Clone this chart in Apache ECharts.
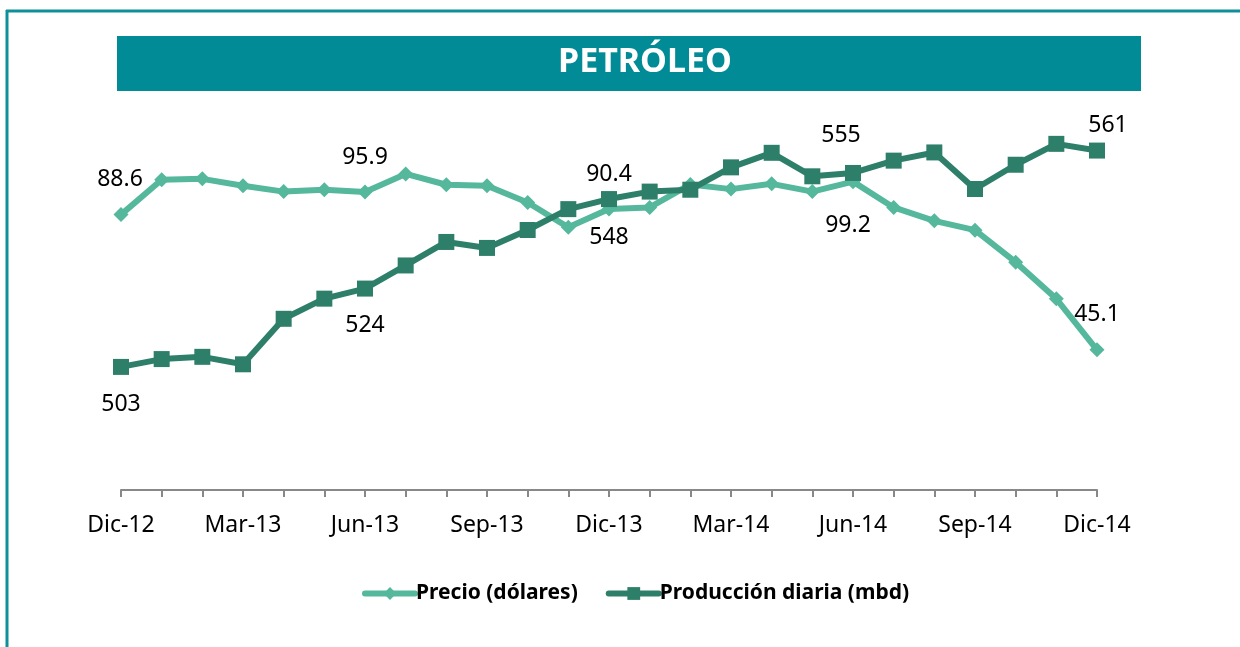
<!DOCTYPE html>
<html>
<head>
<meta charset="utf-8">
<script src="https://cdn.jsdelivr.net/npm/echarts@6/dist/echarts.min.js"></script>
<style>
html,body{margin:0;padding:0;background:#fff;}
#chart{width:1240px;height:647px;}
</style>
</head>
<body>
<div id="chart"></div>
<script>
const titleText = 'PETRÓLEO';
const categories = ['Dic-12','Ene-13','Feb-13','Mar-13','Abr-13','May-13','Jun-13','Jul-13','Ago-13','Sep-13','Oct-13','Nov-13','Dic-13','Ene-14','Feb-14','Mar-14','Abr-14','May-14','Jun-14','Jul-14','Ago-14','Sep-14','Oct-14','Nov-14','Dic-14'];
const seriesNames = ['Precio (dólares)', 'Producción diaria (mbd)'];
const precio = [88.6, 99.8, 100.1, 97.9, 96.0, 96.6, 95.9, 101.7, 98.2, 97.9, 92.5, 84.5, 90.4, 90.9, 98.3, 96.8, 98.5, 96.0, 99.2, 90.9, 86.6, 83.6, 73.3, 61.5, 45.1];
const produccion = [503, 505.1, 505.7, 503.7, 515.9, 521.3, 524, 530.2, 536.5, 534.9, 539.7, 545.3, 548, 550.0, 550.5, 556.5, 560.4, 554.1, 555, 558.3, 560.5, 550.7, 557.2, 562.8, 561];
const labeledIdx = [0, 6, 12, 18, 24];

// label offsets (styling only)
const precioOffsets = {0:[-1,-35], 6:[0,-34], 12:[0,-35], 18:[-5,44], 24:[0,-35]};
const prodOffsets = {0:[0,38], 6:[0,37], 12:[0,38], 18:[-12,-37], 24:[11,-25]};

const FONT = 'Noto Sans';
const C_PRECIO = '#55B89C';
const C_PROD = '#2E7F69';
const C_TEAL = '#008B96';

function buildData(values, offsets, fmt) {
  return values.map((v, i) => {
    if (labeledIdx.indexOf(i) >= 0) {
      return {
        value: v,
        label: {
          show: true, position: 'inside', offset: offsets[i],
          formatter: () => fmt(v),
          color: '#000', fontFamily: FONT, fontSize: 23
        }
      };
    }
    return v;
  });
}

const chart = echarts.init(document.getElementById('chart'), null, {renderer: 'canvas'});
chart.setOption({
  animation: false,
  backgroundColor: '#fff',
  title: {
    text: titleText,
    left: 640, top: 40, textAlign: 'center',
    textStyle: {color: '#fff', fontFamily: FONT, fontWeight: 'bold', fontSize: 34}
  },
  graphic: [
    {type: 'rect', z: -1, shape: {x: 117, y: 36, width: 1024, height: 55}, style: {fill: C_TEAL}},
    {type: 'line', shape: {x1: 6, y1: 11, x2: 1240, y2: 11}, style: {stroke: '#0E8F99', lineWidth: 3}},
    {type: 'line', shape: {x1: 7, y1: 10, x2: 7, y2: 647}, style: {stroke: '#0E8F99', lineWidth: 3}}
  ],
  legend: {
    left: 357, top: 578,
    itemWidth: 50, itemHeight: 16, itemGap: 28,
    lineStyle: {width: 6, cap: 'round'},
    textStyle: {fontFamily: FONT, fontWeight: 'bold', fontSize: 21, color: '#000', padding: [0,0,0,-4]},
    data: seriesNames
  },
  grid: {left: 121, right: 143, top: 117, bottom: 157},
  xAxis: {
    type: 'category', data: categories, boundaryGap: false,
    axisLine: {lineStyle: {color: '#888', width: 2}},
    axisTick: {show: true, interval: 0, length: 7, lineStyle: {color: '#888', width: 2}},
    axisLabel: {interval: 2, margin: 24, color: '#000', fontFamily: FONT, fontSize: 23},
    splitLine: {show: false}
  },
  yAxis: [
    {type: 'value', min: 0, max: 120, show: false, splitLine: {show: false}},
    {type: 'value', min: 470, max: 570, show: false, splitLine: {show: false}}
  ],
  series: [
    {
      name: seriesNames[0], type: 'line', yAxisIndex: 0,
      data: buildData(precio, precioOffsets, v => v.toFixed(1)),
      symbol: 'diamond', symbolSize: 15, showAllSymbol: true,
      lineStyle: {color: C_PRECIO, width: 6},
      itemStyle: {color: C_PRECIO},
      label: {show: false},
      z: 2
    },
    {
      name: seriesNames[1], type: 'line', yAxisIndex: 1,
      data: buildData(produccion, prodOffsets, v => String(Math.round(v))),
      symbol: 'rect', symbolSize: 16, showAllSymbol: true,
      lineStyle: {color: C_PROD, width: 6},
      itemStyle: {color: C_PROD},
      label: {show: false},
      z: 3
    }
  ]
});
</script>
</body>
</html>
